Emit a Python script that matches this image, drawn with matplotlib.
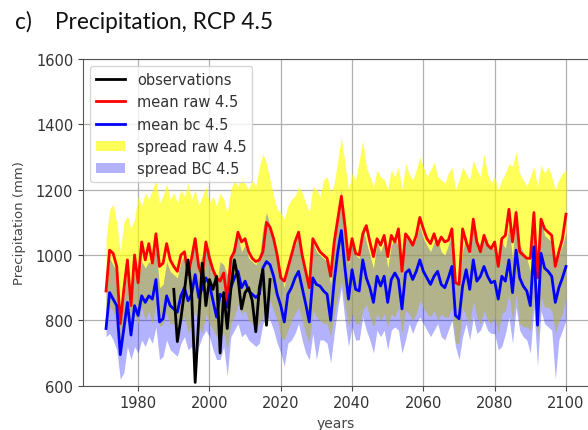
import numpy as np
import matplotlib
matplotlib.use("Agg")
import matplotlib.pyplot as plt

years = np.arange(1971, 2101)

mean_raw = [890, 1015, 1005, 965, 790, 895, 985, 845, 1000, 915,
            1040, 985, 1035, 975, 1065, 965, 975, 1035, 985, 965,
            950, 1000, 1010, 940, 990, 1050, 965, 935, 1040, 990,
            955, 930, 920, 945, 860, 990, 1010, 1070, 1040, 1050,
            1010, 990, 980, 985, 1010, 1100, 1085, 1050, 1000, 930,
            920, 960, 1000, 1040, 1070, 1000, 950, 900, 1050, 1030,
            1010, 1000, 990, 935, 1040, 1110, 1180, 1090, 985, 1050,
            1005, 1000, 1065, 1090, 1040, 995, 1050, 1030, 1060, 995,
            1060, 1040, 1080, 950, 1065, 1050, 1030, 1060, 1115, 1080,
            1050, 1035, 1065, 1030, 1055, 1040, 1045, 1080, 915, 910,
            1080, 1040, 1010, 1110, 1040, 1010, 1060, 1030, 1020, 1040,
            965, 1050, 1060, 1140, 1040, 1130, 1010, 1000, 990, 990,
            1130, 930, 1110, 1080, 1070, 1060, 965, 1010, 1050, 1125]

mean_bc = [775, 885, 865, 845, 695, 775, 855, 755, 845, 815,
           875, 855, 875, 865, 925, 795, 805, 875, 845, 835,
           825, 875, 900, 860, 880, 940, 870, 900, 930, 910,
           860, 810, 880, 870, 840, 900, 930, 950, 900, 920,
           890, 880, 870, 880, 960, 980, 970, 935, 880, 845,
           795, 880, 900, 930, 950, 900, 850, 795, 930, 910,
           905, 890, 880, 800, 920, 1010, 1075, 960, 865, 955,
           895, 890, 985, 930, 900, 855, 935, 905, 935, 855,
           925, 945, 925, 835, 945, 955, 925, 950, 985, 950,
           930, 910, 935, 950, 910, 900, 930, 965, 815, 805,
           905, 955, 895, 985, 920, 935, 965, 935, 915, 920,
           865, 935, 920, 985, 885, 1015, 930, 905, 890, 845,
           1025, 785, 1005, 960, 950, 935, 855, 900, 930, 965]

spread_raw_hi = [1050, 1140, 1155, 1100, 1010, 1100, 1120, 1080, 1110, 1180,
                 1150, 1190, 1170, 1200, 1230, 1160, 1180, 1220, 1170, 1190,
                 1160, 1200, 1180, 1220, 1170, 1200, 1150, 1180, 1210, 1160,
                 1180, 1150, 1190, 1170, 1130, 1200, 1230, 1210, 1245, 1220,
                 1200, 1230, 1210, 1270, 1310, 1280, 1230, 1180, 1140, 1130,
                 1110, 1150, 1170, 1180, 1210, 1190, 1160, 1130, 1210, 1200,
                 1180, 1230, 1240, 1190, 1220, 1290, 1360, 1280, 1200, 1250,
                 1230, 1290, 1350, 1270, 1240, 1210, 1260, 1240, 1230, 1200,
                 1260, 1240, 1270, 1200, 1280, 1250, 1230, 1260, 1300, 1270,
                 1240, 1260, 1285, 1240, 1230, 1220, 1250, 1270, 1200, 1230,
                 1270, 1250, 1230, 1290, 1260, 1240, 1310, 1250, 1220, 1240,
                 1200, 1230, 1250, 1280, 1270, 1315, 1250, 1230, 1210, 1240,
                 1270, 1210, 1275, 1250, 1270, 1240, 1200, 1230, 1250, 1260]

spread_raw_lo = [760, 840, 830, 790, 700, 760, 810, 740, 820, 790,
                 840, 800, 830, 790, 850, 780, 790, 820, 790, 790,
                 770, 800, 810, 760, 790, 830, 780, 760, 820, 790,
                 770, 750, 750, 760, 710, 790, 810, 850, 820, 830,
                 800, 790, 780, 790, 810, 870, 860, 830, 800, 750,
                 740, 770, 800, 820, 840, 800, 760, 730, 830, 810,
                 800, 790, 790, 750, 820, 870, 920, 850, 780, 820,
                 790, 790, 830, 850, 810, 780, 820, 800, 820, 780,
                 820, 810, 840, 760, 830, 820, 800, 820, 860, 840,
                 820, 810, 830, 800, 820, 810, 810, 840, 730, 730,
                 840, 810, 790, 860, 810, 790, 830, 800, 790, 810,
                 760, 820, 830, 880, 800, 880, 790, 780, 780, 770,
                 880, 740, 870, 840, 840, 830, 760, 800, 820, 870]

spread_bc_hi = [880, 990, 970, 950, 800, 880, 960, 860, 950, 920,
                980, 960, 980, 970, 1030, 900, 910, 980, 950, 940,
                930, 980, 1000, 960, 980, 1050, 970, 1000, 1040, 1010,
                960, 910, 980, 970, 940, 1000, 1040, 1060, 1010, 1030,
                990, 980, 970, 990, 1080, 1130, 1090, 1040, 980, 950,
                900, 980, 1000, 1030, 1060, 1000, 950, 900, 1040, 1010,
                1000, 990, 980, 910, 1030, 1120, 1200, 1070, 970, 1060,
                1000, 990, 1090, 1040, 1000, 960, 1040, 1010, 1040, 960,
                1030, 1050, 1030, 940, 1050, 1060, 1030, 1050, 1090, 1050,
                1030, 1010, 1040, 1050, 1010, 1000, 1030, 1070, 920, 910,
                1010, 1060, 1000, 1090, 1020, 1040, 1070, 1040, 1020, 1020,
                970, 1040, 1020, 1090, 990, 1150, 1030, 1010, 990, 950,
                1140, 890, 1110, 1060, 1050, 1040, 960, 1000, 1030, 1070]

spread_bc_lo = [750, 760, 740, 710, 620, 640, 720, 680, 720, 700,
                740, 720, 750, 730, 780, 680, 690, 740, 710, 700,
                690, 730, 750, 710, 720, 670, 720, 750, 770, 750,
                710, 680, 680, 720, 630, 750, 770, 790, 750, 760,
                740, 730, 720, 730, 790, 810, 800, 770, 730, 700,
                660, 730, 740, 760, 790, 740, 700, 680, 760, 680,
                740, 740, 730, 670, 760, 840, 900, 800, 720, 780,
                740, 740, 810, 770, 740, 700, 770, 750, 770, 710,
                770, 780, 770, 700, 740, 790, 760, 790, 810, 790,
                770, 750, 770, 790, 750, 740, 770, 800, 720, 680,
                750, 790, 740, 810, 760, 770, 800, 770, 760, 760,
                710, 720, 760, 810, 730, 840, 770, 750, 740, 700,
                840, 660, 830, 790, 780, 770, 620, 740, 770, 800]

obs_years = np.arange(1990, 2018)
observations = [895, 735, 805, 890, 985, 885, 610, 805, 975, 845,
                925, 895, 935, 700, 885, 775, 895, 985, 930, 835,
                885, 900, 860, 765, 900, 955, 785, 925]

x_ticks = [1980, 2000, 2020, 2040, 2060, 2080, 2100]
y_ticks = [600, 800, 1000, 1200, 1400, 1600]

fig = plt.figure(figsize=(5.88, 4.31), dpi=100)
ax = fig.add_axes([0.1412, 0.1028, 0.8605, 0.758])

tick_color = "#444444"

f1 = ax.fill_between(years, spread_raw_lo, spread_raw_hi, color="yellow",
                     alpha=0.65, linewidth=0, label="spread raw 4.5")
f2 = ax.fill_between(years, spread_bc_lo, spread_bc_hi, color="blue",
                     alpha=0.3, linewidth=0, label="spread BC 4.5")
l2, = ax.plot(years, mean_raw, color="red", lw=2.0, label="mean raw 4.5")
l3, = ax.plot(years, mean_bc, color="blue", lw=2.0, label="mean bc 4.5")
l1, = ax.plot(obs_years, observations, color="black", lw=2.0, label="observations")

ax.set_ylim(600, 1600)
ax.set_xlim(1964.55, 2106.45)
ax.set_xticks(x_ticks)
ax.set_yticks(y_ticks)
ax.grid(True, color="#b0b0b0", linewidth=0.9)
ax.set_axisbelow(True)
ax.tick_params(labelsize=10.5, colors=tick_color, labelcolor="#333333")
for s in ax.spines.values():
    s.set_color("#555555")

ax.set_ylabel("Precipitation (mm)", fontsize=9.5, color="#444444", labelpad=7)
ax.set_xlabel("years", fontsize=10, color="#444444", labelpad=4)

leg = ax.legend(handles=[l1, l2, l3, f1, f2], loc="upper left", fontsize=10.5,
                labelspacing=0.5, borderaxespad=0.5, framealpha=0.8,
                labelcolor="#333333")

fig.text(0.026, 0.950, "c)    Precipitation, RCP 4.5", fontsize=16.3,
         family=["Lato", "DejaVu Sans"], va="center", ha="left", color="#111111")

fig.savefig("out.png", dpi=100)
